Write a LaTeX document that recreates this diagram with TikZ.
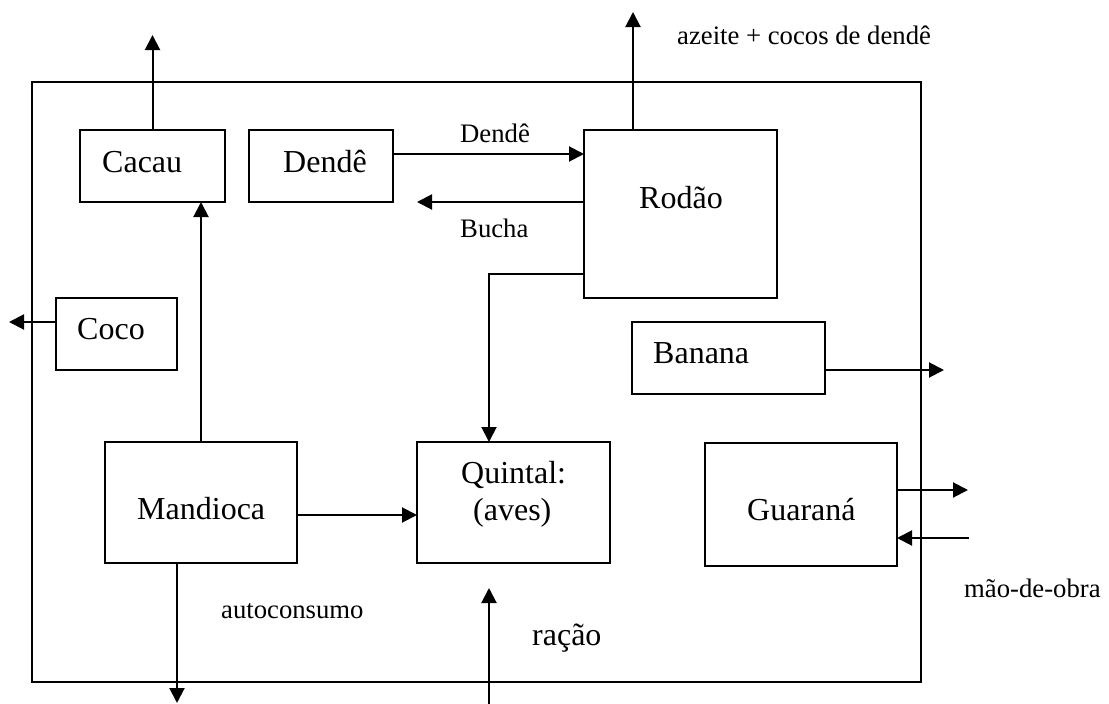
\documentclass[tikz,border=0pt]{standalone}
\usepackage{fontspec}
\setmainfont{Liberation Serif}
\usetikzlibrary{arrows.meta}

\tikzset{
  box/.style={draw, line width=1.5pt, inner sep=0pt, outer sep=0pt, rectangle},
  flow/.style={line width=2pt, -{Triangle[length=15pt,width=15pt]}},
  big/.style={inner sep=0pt, anchor=base west, font=\fontsize{32}{38}\selectfont},
  small/.style={inner sep=0pt, anchor=base west, font=\fontsize{26.7}{32}\selectfont},
}

\begin{document}
\begin{tikzpicture}[x=1pt, y=-1pt]
  \useasboundingbox (0,0) rectangle (1109,704);

  % system boundary
  \draw[line width=1.5pt] (32,82) rectangle (921,682);

  % boxes
  \node[box, minimum width=145pt, minimum height=72pt]  (cacau)    at (152.5,166) {};
  \node[box, minimum width=144pt, minimum height=72pt]  (dende)    at (321,166)   {};
  \node[box, minimum width=193pt, minimum height=168pt] (rodao)    at (680.5,214) {};
  \node[box, minimum width=121pt, minimum height=72pt]  (coco)     at (116.5,334) {};
  \node[box, minimum width=193pt, minimum height=72pt]  (banana)   at (728.5,358) {};
  \node[box, minimum width=192pt, minimum height=121pt] (mandioca) at (201,502.5) {};
  \node[box, minimum width=193pt, minimum height=121pt] (quintal)  at (513.5,502.5) {};
  \node[box, minimum width=192pt, minimum height=123pt] (guarana)  at (801,504.5) {};

  % box texts
  \node[big] (tcacau)    at (102,172) {Cacau};
  \node[big] (tdende)    at (283,172) {Dendê};
  \node[big] (trodao)    at (639,208) {Rodão};
  \node[big] (tcoco)     at (77,339)  {Coco};
  \node[big] (tbanana)   at (653,363) {Banana};
  \node[big] (tmandioca) at (137,519) {Mandioca};
  \node[big] (tquintal)  at (461,483) {Quintal:};
  \node[big] (taves)     at (473,520) {(aves)};
  \node[big] (tguarana)  at (747,520) {Guaraná};

  % free ends of the connectors
  \coordinate (cacauout)  at (152.5,35);
  \coordinate (rodaoout)  at (633,12);
  \coordinate (buchaend)  at (417,202);
  \coordinate (cocoout)   at (9,322);
  \coordinate (bananaout) at (944,370);
  \coordinate (mandout)   at (177,703);
  \coordinate (racaoin)   at (489,704);
  \coordinate (racaoend)  at (489,588);
  \coordinate (guarout)   at (968,490);
  \coordinate (maoin)     at (969,538);

  % connectors
  \draw[flow] (cacau.north) -- (cacauout);
  \draw[flow] (mandioca.north) -- (mandioca.north |- cacau.south);
  \draw[flow] (dende.east |- 0,154) -- (rodao.west |- 0,154);
  \draw[flow] (rodao.west |- 0,202) -- (buchaend);
  \draw[flow] (rodao.north -| rodaoout) -- (rodaoout);
  \draw[flow] (rodao.west |- 0,274) -| (quintal.north -| racaoin);
  \draw[flow] (coco.west |- cocoout) -- (cocoout);
  \draw[flow] (banana.east |- bananaout) -- (bananaout);
  \draw[flow] (mandioca.east |- 0,515) -- (quintal.west |- 0,515);
  \draw[flow] (mandioca.south -| mandout) -- (mandout);
  \draw[flow] (racaoin) -- (racaoend);
  \draw[flow] (guarana.east |- guarout) -- (guarout);
  \draw[flow] (maoin) -- (guarana.east |- maoin);

  % connector labels
  \node[small] (ldende)  at (460,142) {Dendê};
  \node[small] (lbucha)  at (460,237) {Bucha};
  \node[small] (lazeite) at (677,44)  {azeite + cocos de dendê};
  \node[small] (lauto)   at (221,618) {autoconsumo};
  \node[big]   (lracao)  at (532,645) {ração};
  \node[small] (lmao)    at (964,597) {mão-de-obra};
\end{tikzpicture}
\end{document}
